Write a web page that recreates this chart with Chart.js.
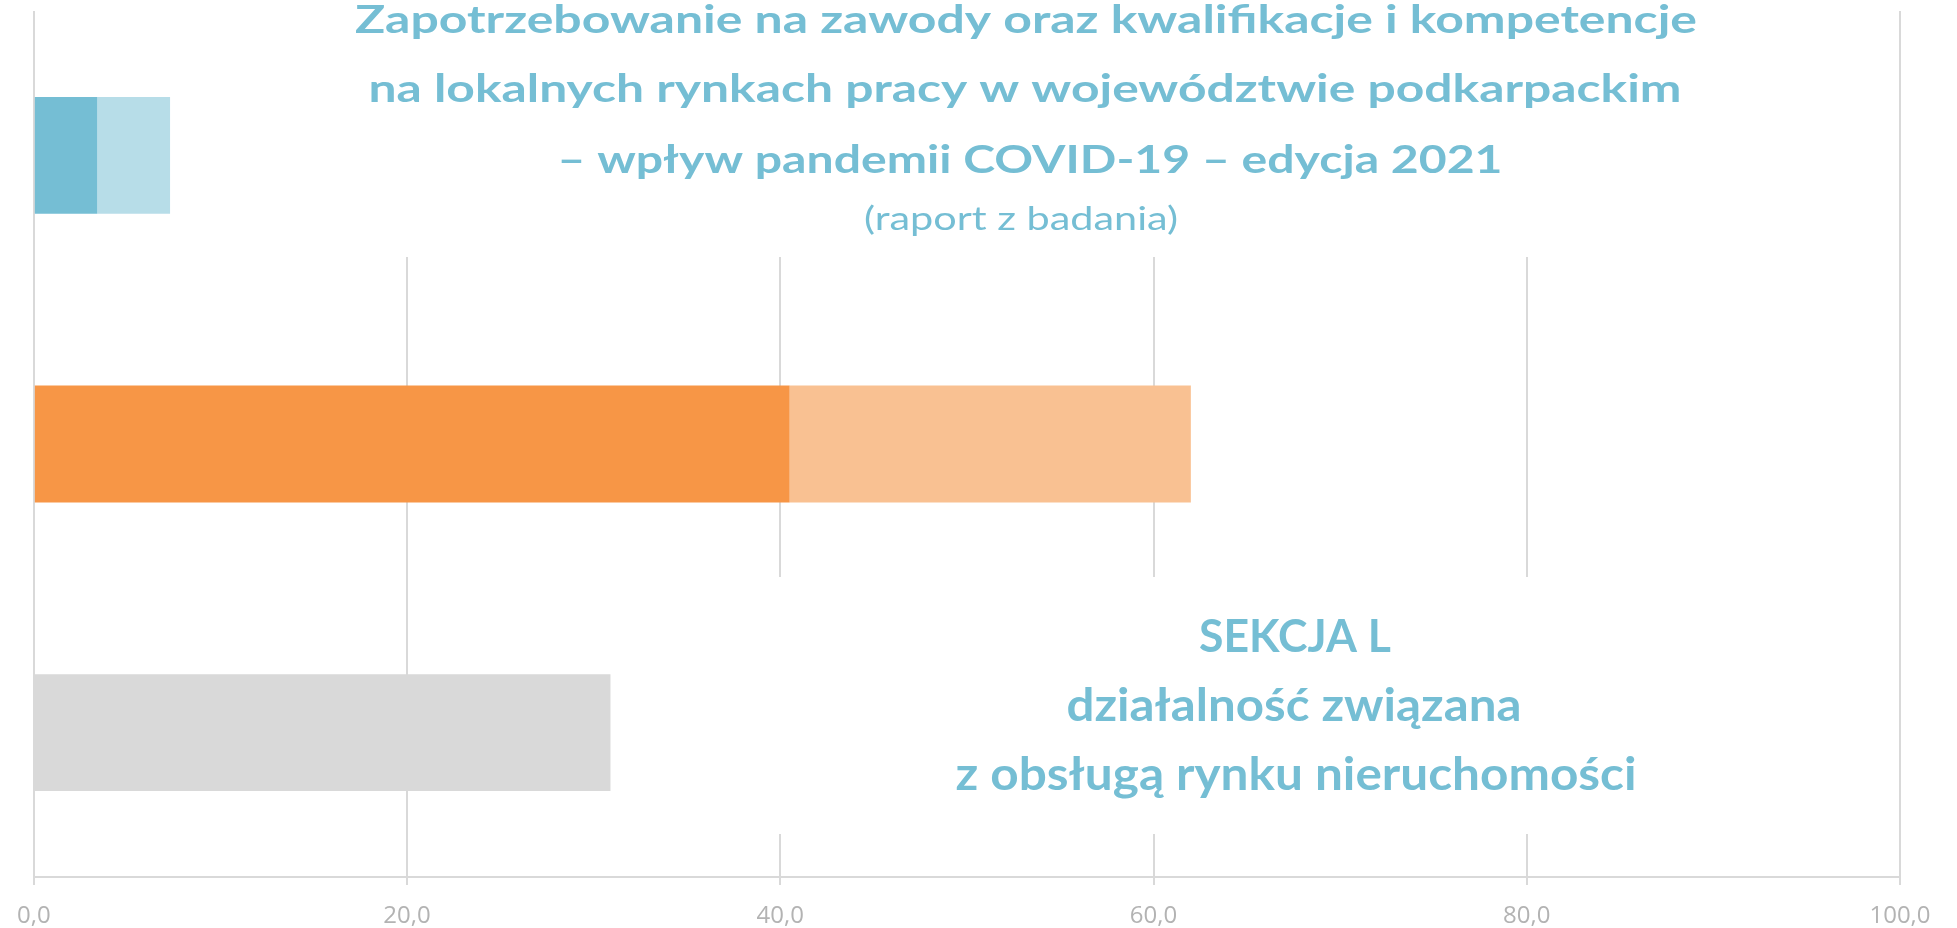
<!DOCTYPE html>
<html>
<head>
<meta charset="utf-8">
<script src="https://cdn.jsdelivr.net/npm/chart.js@4.4.1/dist/chart.umd.min.js"></script>
<style>
html,body{margin:0;padding:0;background:#ffffff;overflow:hidden;}
#wrap{width:1957px;height:928px;}
</style>
</head>
<body>
<div id="wrap"><canvas id="c" width="1957" height="928"></canvas></div>
<script>
// ---- data ----
const categories = ['1', '2', '3'];
const darkSegment = [3.4, 40.5, 30.9];
const lightSegment = [3.9, 21.5, 0];
const tickLabels = ['0,0', '20,0', '40,0', '60,0', '80,0', '100,0'];
const titleLines = [
  'Zapotrzebowanie na zawody oraz kwalifikacje i kompetencje',
  'na lokalnych rynkach pracy w województwie podkarpackim',
  '– wpływ pandemii COVID-19 – edycja 2021'
];
const subtitleLine = '(raport z badania)';
const sectionLines = [
  'SEKCJA L',
  'działalność związana',
  'z obsługą rynku nieruchomości'
];

// ---- styles ----
const darkColors = ['#75BED4', '#F79646', '#D9D9D9'];
const lightColors = ['#B7DDE8', '#F9C192', 'rgba(0,0,0,0)'];
const textColor = '#75BED4';
const gridColor = '#D9D9D9';

function drawFit(ctx, text, cx, baseline, font, targetW) {
  ctx.save();
  ctx.font = font;
  const w = ctx.measureText(text).width;
  const sx = targetW / w;
  ctx.translate(cx, baseline);
  ctx.scale(sx, 1);
  ctx.textAlign = 'center';
  ctx.textBaseline = 'alphabetic';
  ctx.fillStyle = textColor;
  ctx.fillText(text, 0, 0);
  ctx.restore();
}

const overlayPlugin = {
  id: 'overlays',
  beforeDatasetsDraw(chart) {
    const ctx = chart.ctx;
    ctx.save();
    ctx.fillStyle = '#ffffff';
    ctx.fillRect(300, 0, 1420, 257);
    ctx.fillRect(640, 577, 1060, 257);
    ctx.restore();
    const tf = 'bold 39px Lato';
    drawFit(ctx, titleLines[0], 1026, 33, tf, 1342);
    drawFit(ctx, titleLines[1], 1025, 102, tf, 1313);
    drawFit(ctx, titleLines[2], 1030, 173, tf, 945);
    drawFit(ctx, subtitleLine, 1021, 230, '33px Lato', 314);
    const sf = 'bold 46px Lato';
    drawFit(ctx, sectionLines[0], 1295, 652, sf, 192);
    drawFit(ctx, sectionLines[1], 1294, 721, sf, 455);
    drawFit(ctx, sectionLines[2], 1296, 790, sf, 681);
  }
};

new Chart(document.getElementById('c'), {
  type: 'bar',
  data: {
    labels: categories,
    datasets: [
      { data: darkSegment, backgroundColor: darkColors, borderWidth: 0, barPercentage: 0.405, categoryPercentage: 1 },
      { data: lightSegment, backgroundColor: lightColors, borderWidth: 0, barPercentage: 0.405, categoryPercentage: 1 }
    ]
  },
  options: {
    indexAxis: 'y',
    responsive: false,
    animation: false,
    layout: { padding: { left: 33, right: 57, top: 11, bottom: 0 } },
    plugins: { legend: { display: false }, tooltip: { enabled: false }, title: { display: false } },
    scales: {
      x: {
        stacked: true,
        min: 0,
        max: 100,
        afterFit: (scale) => { scale.height = 51; },
        ticks: {
          stepSize: 20,
          callback: (v, i) => tickLabels[i],
          font: { family: 'Open Sans', size: 24 },
          color: '#B3B3B3',
          padding: 17,
          maxRotation: 0
        },
        grid: { color: gridColor, lineWidth: 2, tickLength: 8 },
        border: { color: gridColor, width: 2 }
      },
      y: { stacked: true, display: false }
    }
  },
  plugins: [overlayPlugin]
});
</script>
</body>
</html>
